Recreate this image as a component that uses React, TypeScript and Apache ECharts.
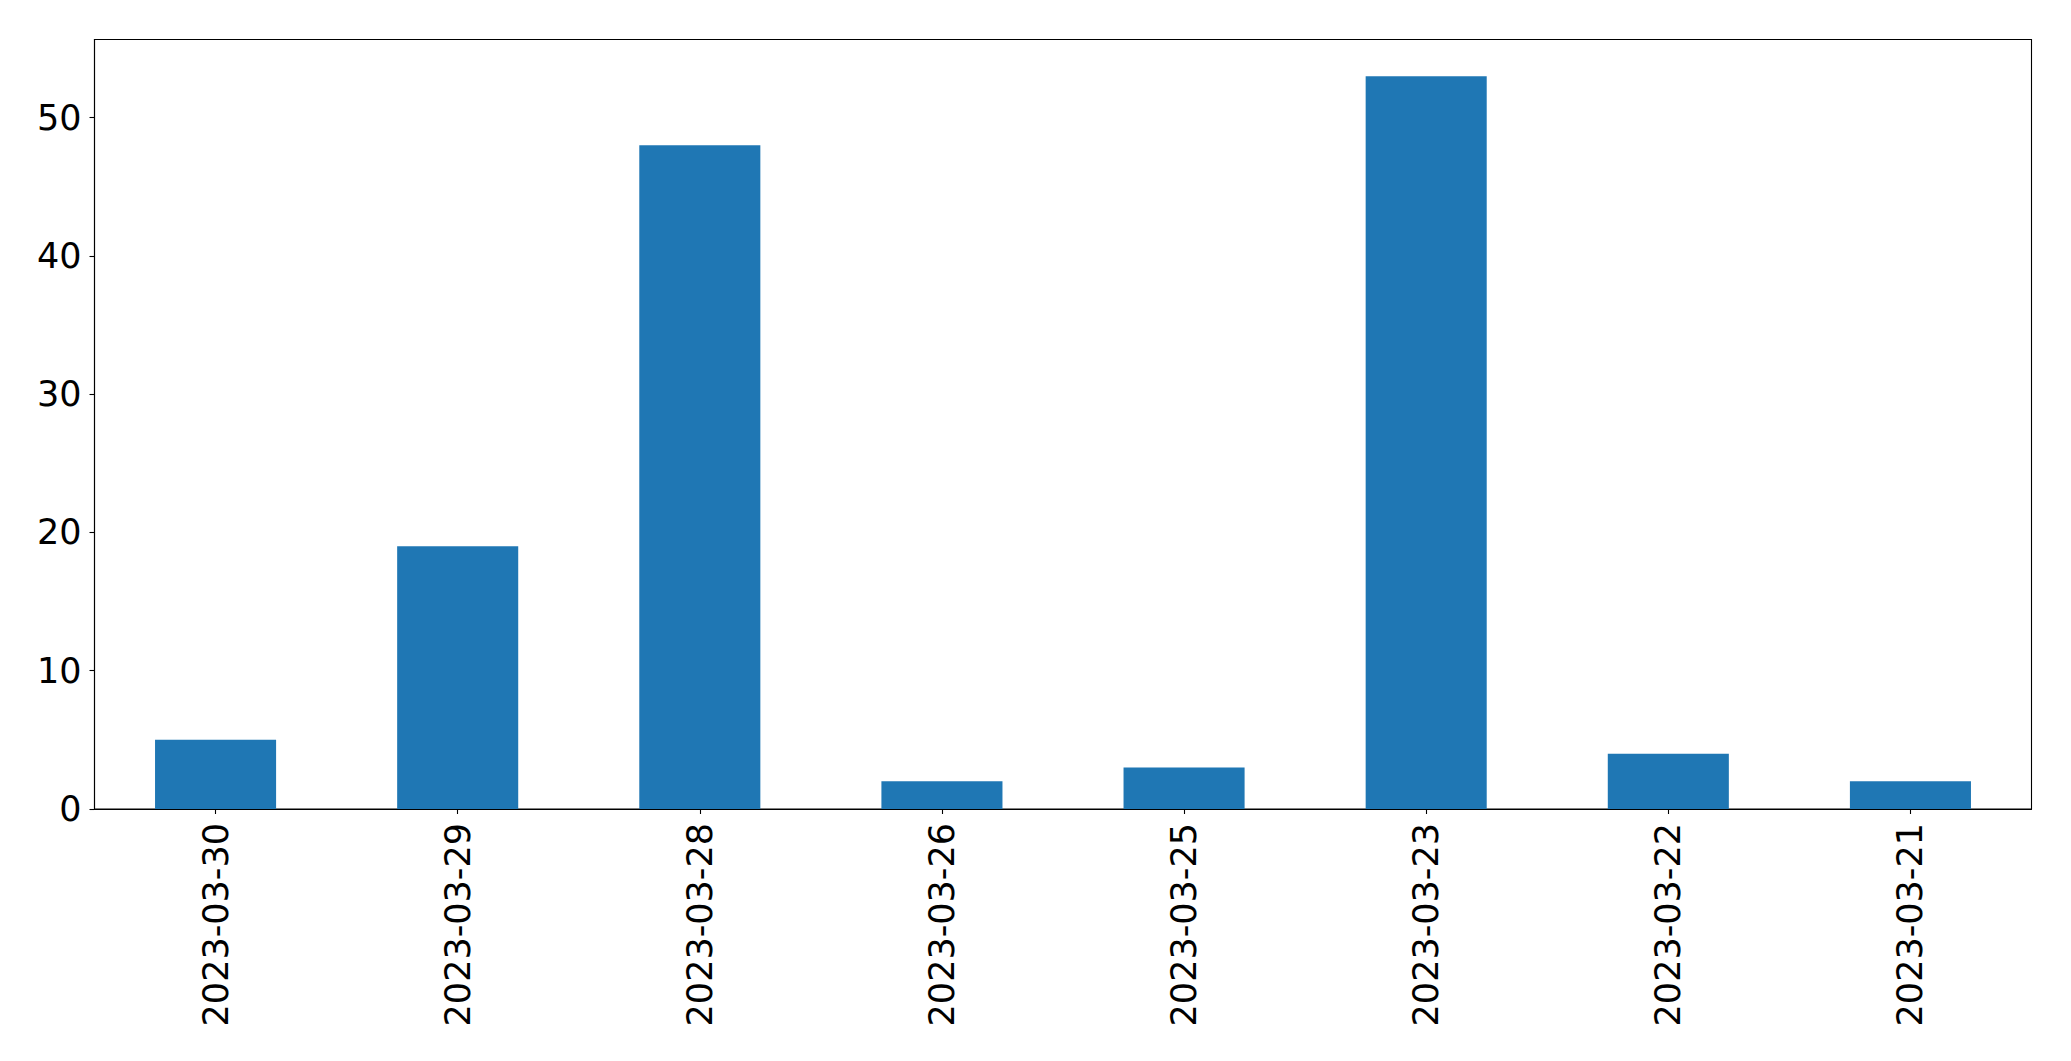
import React, { useEffect, useRef } from "react";
import * as echarts from "echarts";

const categories = [
  "2023-03-30",
  "2023-03-29",
  "2023-03-28",
  "2023-03-26",
  "2023-03-25",
  "2023-03-23",
  "2023-03-22",
  "2023-03-21",
];
const values = [5, 19, 48, 2, 3, 53, 4, 2];
const yTicks = [0, 10, 20, 30, 40, 50];

export default function App() {
  const ref = useRef<HTMLDivElement>(null);
  useEffect(() => {
    if (!ref.current) return;
    const chart = echarts.init(ref.current, null, { renderer: "svg" });
    const font = "DejaVu Sans";
    chart.setOption({
      animation: false,
      backgroundColor: "#ffffff",
      grid: {
        left: 94.5,
        top: 39.5,
        width: 1937,
        height: 769.5,
        show: true,
        borderColor: "#000000",
        borderWidth: 1.1,
        backgroundColor: "transparent",
      },
      xAxis: {
        type: "category",
        data: categories,
        axisLine: { show: true, lineStyle: { color: "#000", width: 1.1 } },
        axisTick: { show: true, alignWithLabel: true, length: 5, lineStyle: { color: "#000", width: 1.1 } },
        axisLabel: {
          rotate: 90,
          margin: 14,
          color: "#000",
          fontFamily: font,
          fontSize: 35,
          interval: 0,
        },
        splitLine: { show: false },
      },
      yAxis: {
        type: "value",
        min: 0,
        max: 55.65,
        interval: 10,
        axisLine: { show: true, lineStyle: { color: "#000", width: 1.1 } },
        axisTick: { show: true, length: 5, customValues: yTicks, lineStyle: { color: "#000", width: 1.1 } },
        axisLabel: {
          customValues: yTicks,
          margin: 13,
          color: "#000",
          fontFamily: font,
          fontSize: 35,
        },
        splitLine: { show: false },
      },
      series: [
        {
          type: "bar",
          data: values,
          barWidth: "50%",
          itemStyle: { color: "#1f77b4" },
        },
      ],
    });
    return () => chart.dispose();
  }, []);
  return (
    <div
      ref={ref}
      style={{ position: "fixed", left: 0, top: 0, width: 2071, height: 1061 }}
    />
  );
}
